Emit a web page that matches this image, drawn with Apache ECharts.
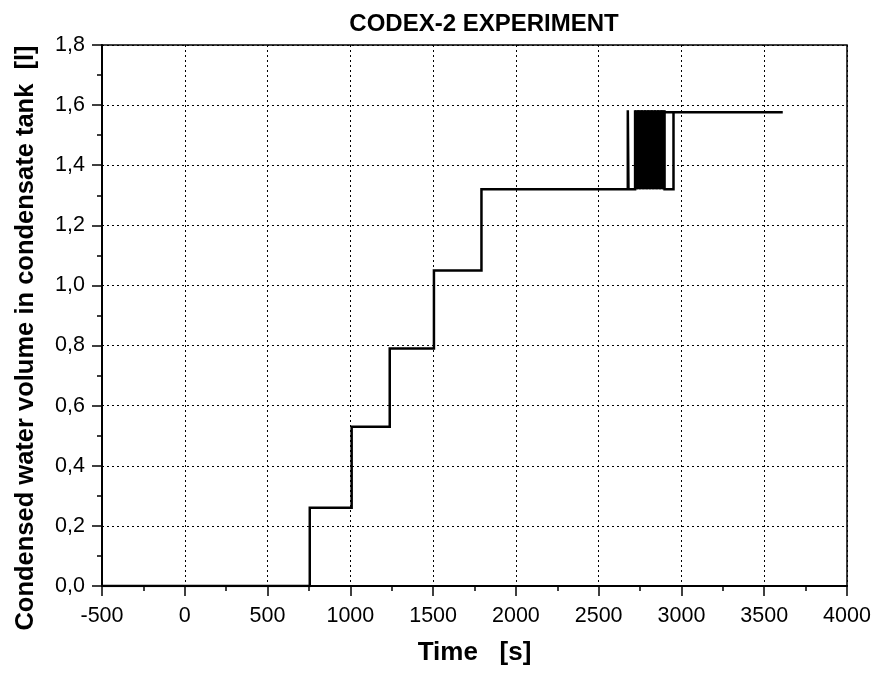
<!DOCTYPE html>
<html>
<head>
<meta charset="utf-8">
<script src="https://cdn.jsdelivr.net/npm/echarts@6/dist/echarts.min.js"></script>
<style>
html,body{margin:0;padding:0;background:#fff;}
#chart{width:876px;height:677px;}
</style>
</head>
<body>
<div id="chart"></div>
<script>
var titleText = 'CODEX-2 EXPERIMENT';
var xName = 'Time   [s]';
var yName = 'Condensed water volume in condensate tank  [l]';

// time [s] of each vertex of the recorded trace
var timeS = [
  -500, 755, 755, 1008, 1008, 1238, 1238, 1505, 1505, 1792, 1792, 2676, 2676, 2680, 2680,
  2720, 2720, 2730, 2730, 2740, 2740, 2750, 2750, 2760, 2760, 2770, 2770, 2780, 2780,
  2790, 2790, 2800, 2800, 2810, 2810, 2820, 2820, 2830, 2830, 2840, 2840, 2850, 2850,
  2860, 2860, 2870, 2870, 2880, 2880, 2890, 2890, 2898, 2898,
  2898, 2952, 2952, 2898, 3612
];
// condensed water volume [l] at each vertex
var volumeL = [
  0, 0, 0.26, 0.26, 0.53, 0.53, 0.79, 0.79, 1.05, 1.05, 1.32, 1.32, 1.583, 1.583, 1.32,
  1.32, 1.583, 1.583, 1.32, 1.32, 1.583, 1.583, 1.32, 1.32, 1.583, 1.583, 1.32, 1.32, 1.583,
  1.583, 1.32, 1.32, 1.583, 1.583, 1.32, 1.32, 1.583, 1.583, 1.32, 1.32, 1.583, 1.583, 1.32,
  1.32, 1.583, 1.583, 1.32, 1.32, 1.583, 1.583, 1.32, 1.32, 1.583,
  1.32, 1.32, 1.576, 1.576, 1.576
];
// extent of the dense oscillation block (time range, volume range)
var blockTime = [2720, 2898];
var blockVolume = [1.32, 1.583];

var xTicks = { min: -500, max: 4000, interval: 500 };
var yTicks = { min: 0, max: 1.8, interval: 0.2 };

var points = timeS.map(function (t, i) { return [t, volumeL[i]]; });

var chart = echarts.init(document.getElementById('chart'), null, { renderer: 'canvas' });
var font = 'Liberation Sans, Arial, Helvetica, sans-serif';

chart.setOption({
  animation: false,
  backgroundColor: '#ffffff',
  title: {
    text: titleText,
    left: 479, top: 7, textAlign: 'center',
    textStyle: { fontFamily: font, fontWeight: 'bold', fontSize: 24, color: '#000' }
  },
  grid: {
    left: 102, right: 29, top: 45, bottom: 91,
    show: true, borderColor: '#000', borderWidth: 1.5, backgroundColor: 'transparent'
  },
  xAxis: {
    type: 'value',
    min: xTicks.min, max: xTicks.max, interval: xTicks.interval,
    name: xName, nameLocation: 'middle', nameGap: 54,
    nameTextStyle: { fontFamily: font, fontWeight: 'bold', fontSize: 26, color: '#000' },
    axisLine: { show: true, onZero: false, lineStyle: { color: '#000', width: 2 } },
    axisTick: { show: true, inside: false, length: 10, lineStyle: { color: '#000', width: 1.5 } },
    minorTick: { show: true, splitNumber: 2, length: 5, lineStyle: { color: '#000', width: 1.5 } },
    axisLabel: { margin: 19, fontFamily: font, fontSize: 21.5, color: '#000',
      formatter: function (v) { return String(v); } },
    splitLine: { show: true, lineStyle: { color: '#000', width: 1, type: [2, 3] } }
  },
  yAxis: {
    type: 'value',
    min: yTicks.min, max: yTicks.max, interval: yTicks.interval,
    axisLine: { show: true, onZero: false, lineStyle: { color: '#000', width: 2 } },
    axisTick: { show: true, inside: false, length: 10, lineStyle: { color: '#000', width: 1.5 } },
    minorTick: { show: true, splitNumber: 2, length: 5, lineStyle: { color: '#000', width: 1.5 } },
    axisLabel: { margin: 17, fontFamily: font, fontSize: 21.5, color: '#000',
      formatter: function (v) { return v.toFixed(1).replace('.', ','); } },
    splitLine: { show: true, lineStyle: { color: '#000', width: 1, type: [2, 3] } }
  },
  graphic: [{
    type: 'text',
    x: 26, y: 338, rotation: Math.PI / 2,
    style: {
      text: yName, textAlign: 'center', textVerticalAlign: 'middle',
      fontFamily: font, fontWeight: 'bold', fontSize: 25.5, fill: '#000'
    }
  }],
  series: [{
    type: 'line',
    data: points,
    showSymbol: false,
    symbol: 'none',
    clip: true,
    lineStyle: { color: '#000', width: 2.5, join: 'miter' },
    markArea: {
      silent: true,
      itemStyle: { color: '#000', opacity: 1 },
      data: [[
        { coord: [blockTime[0], blockVolume[0]] },
        { coord: [blockTime[1], blockVolume[1]] }
      ]]
    }
  }]
});
</script>
</body>
</html>
